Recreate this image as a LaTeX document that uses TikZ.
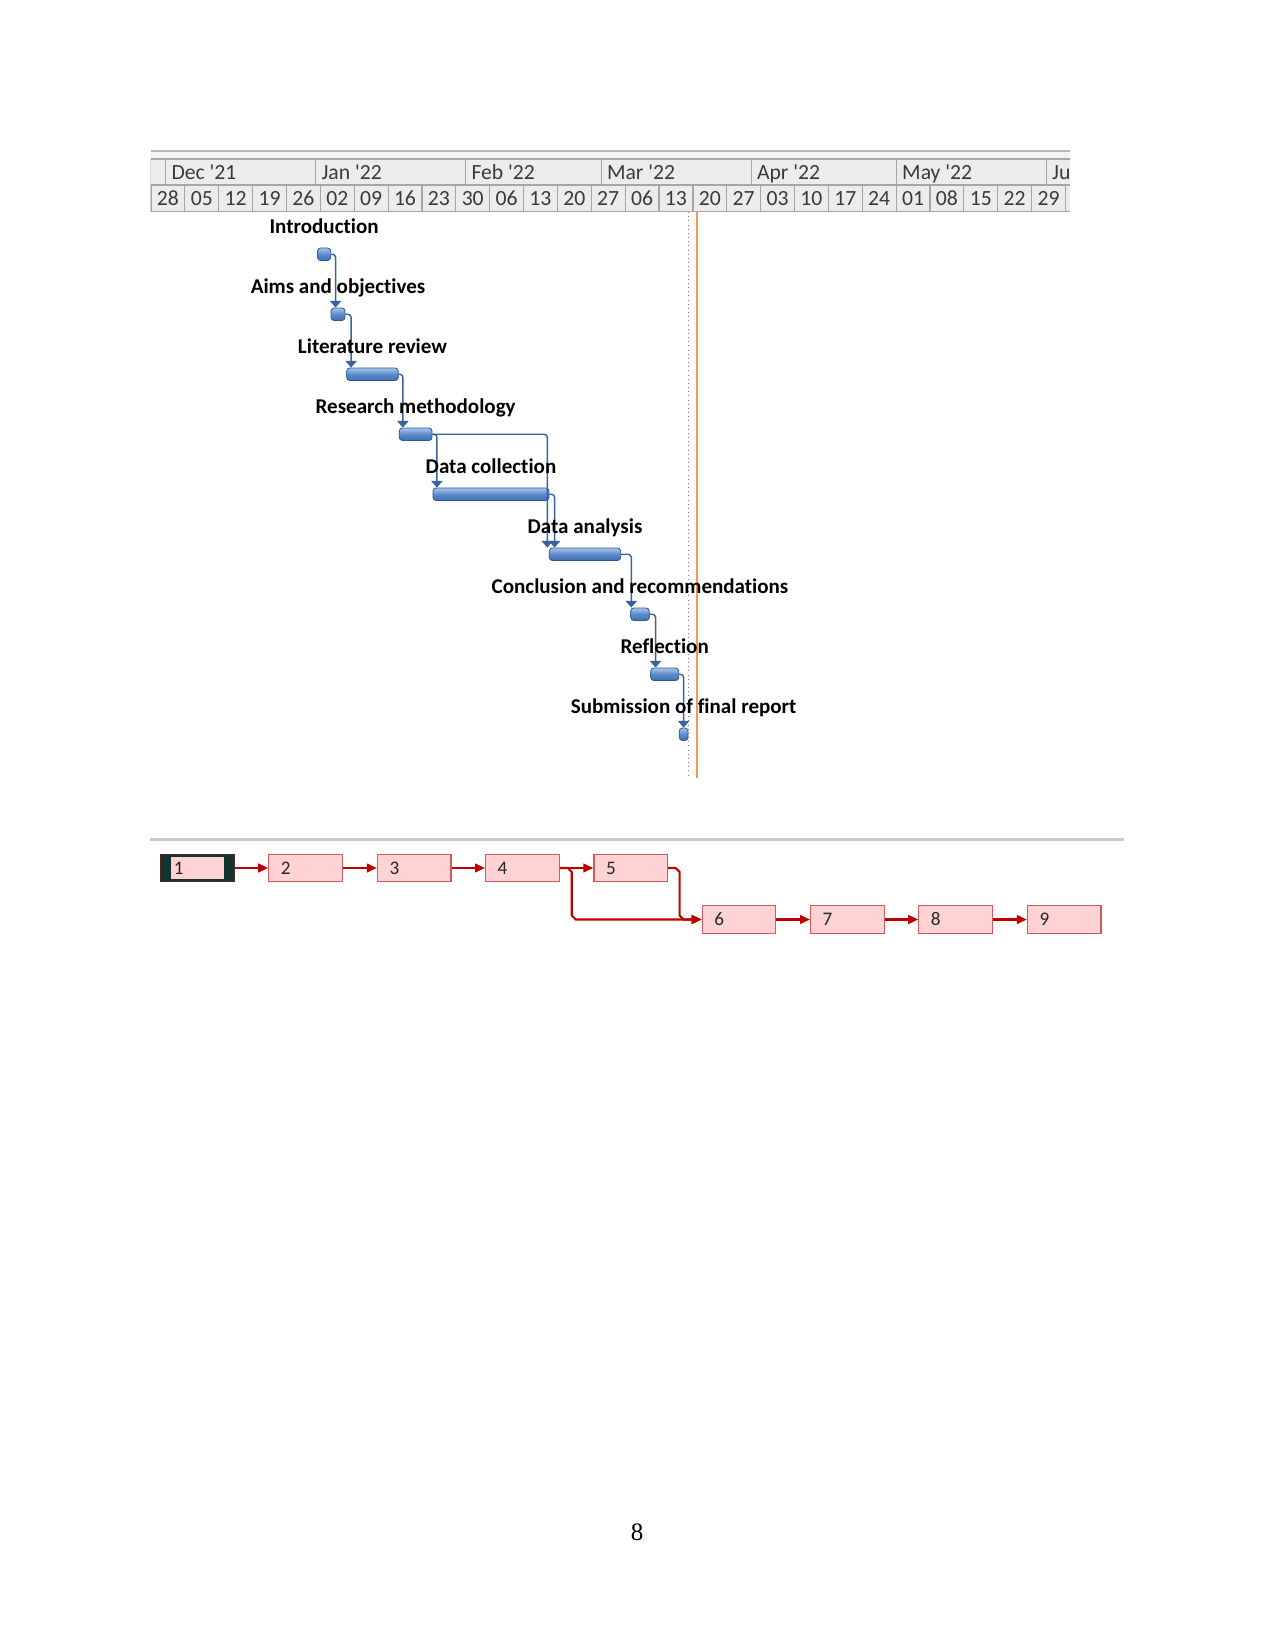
\documentclass[tikz,border=0pt]{standalone}
\usepackage{fontspec}
\setmainfont{Liberation Serif}
\newfontfamily\calfont[Ligatures={NoCommon}]{Carlito}
\usetikzlibrary{arrows.meta,calc,fit}
\newcommand\apos{\char"27\relax}
\definecolor{hdrfill}{HTML}{ECECEC}
\definecolor{hdrband}{HTML}{F3F3F3}
\definecolor{hdrline}{HTML}{A6A6A6}
\definecolor{hdrtop}{HTML}{B5B5B5}
\definecolor{hdrtext}{HTML}{3A3A3A}
\definecolor{bartop}{HTML}{A9C4EA}
\definecolor{barmid}{HTML}{5B8BCB}
\definecolor{barbot}{HTML}{3F6FAF}
\definecolor{barline}{HTML}{2F5A94}
\definecolor{connblue}{HTML}{3A62A0}
\definecolor{todayorange}{HTML}{F39A52}
\definecolor{boxfill}{HTML}{FFD3D3}
\definecolor{boxline}{HTML}{D05A5A}
\definecolor{netred}{HTML}{C00000}
\definecolor{boxdark}{HTML}{0F3431}
\definecolor{sepgrey}{HTML}{C8C8C8}
\tikzset{
  ganttbar/.style={draw=barline, line width=0.4bp, rounded corners=1.5bp,
    top color=bartop, bottom color=barbot, middle color=barmid, inner sep=0pt},
  conn/.style={draw=connblue, line width=0.7bp, rounded corners=1.5bp,
    -{Triangle[length=3.2bp,width=5.4bp]}},
  lbl/.style={anchor=base, inner sep=0pt, font=\calfont\bfseries\fontsize{10.1bp}{12bp}\selectfont},
  daytxt/.style={anchor=base, inner sep=0pt, text=hdrtext, font=\calfont\fontsize{10.4bp}{12bp}\selectfont},
  monthtxt/.style={anchor=base west, inner sep=0pt, text=hdrtext, font=\calfont\fontsize{10.4bp}{12bp}\selectfont},
  hline/.style={draw=hdrline, line width=0.55bp},
  nbox/.style={draw=boxline, fill=boxfill, line width=0.6bp, anchor=west,
    minimum width=35.28bp, minimum height=13.2bp, inner sep=0pt, inner xsep=5.8bp,
    text width=23.68bp, align=left, text=black!85,
    font=\calfont\fontsize{9.2bp}{10bp}\selectfont},
  nline/.style={draw=netred, line width=1bp},
  narrow/.style={nline, -{Triangle[length=4.8bp,width=4.2bp]}},
}
\begin{document}
\begin{tikzpicture}[x=0.48bp,y=-0.48bp]
\useasboundingbox (0,0) rectangle (1275,1651);
\fill[white] (0,0) rectangle (1275,1651);

% ---------------- timescale header ----------------
\begin{scope}
\clip (150.5,149) rectangle (1070,213);
\fill[hdrband] (150.5,152) rectangle (1070,159);
\fill[hdrfill] (150.5,159) rectangle (1070,211.5);
\draw[hdrtop, line width=1.1bp] (150.5,151) -- (1070,151);
\draw[hline] (150.5,159) -- (1070,159);
\draw[hline] (150.5,185) -- (1070,185);
\draw[hline] (150.5,211.5) -- (1070,211.5);
\draw[hline] (150.8,159) -- (150.8,211.5);
\foreach \x/\m [count=\i] in {165.6/Dec \apos21, 315.6/Jan \apos22, 465.6/Feb \apos22,
    601.1/Mar \apos22, 751.1/Apr \apos22, 896.3/May \apos22, 1046.3/Jun \apos22} {
  \draw[hline] (\x,159) -- (\x,185);
  \node[monthtxt] (m\i) at (\x+5.5,179.5) {\m};
}
\foreach \d [count=\i from 0] in {28,05,12,19,26,02,09,16,23,30,06,13,20,27,06,13,20,27,03,10,17,24,01,08,15,22,29,05} {
  \draw[hline] ({151+33.87*\i},185) -- ({151+33.87*\i},211.5);
  \node[daytxt] (d\i) at ({151+33.87*\i+16.9},205.5) {\d};
}
\end{scope}

% ---------------- status lines ----------------
\draw[gray, line width=0.5bp, dash pattern=on 0.5bp off 1.5bp] (688.5,212) -- (688.5,776);
\draw[todayorange, line width=0.8bp] (697,212) -- (697,778);

% ---------------- bars ----------------
\node[ganttbar, fit={(317.5,248) (330.7,260.5)}] (b1) {};
\node[ganttbar, fit={(331,308) (345,320.5)}] (b2) {};
\node[ganttbar, fit={(346.7,368) (398.3,380.5)}] (b3) {};
\node[ganttbar, fit={(399.3,428) (432,440.5)}] (b4) {};
\node[ganttbar, fit={(433,488) (549,500.5)}] (b5) {};
\node[ganttbar, fit={(549.3,548) (620.7,560.5)}] (b6) {};
\node[ganttbar, fit={(630.7,608) (649.3,620.5)}] (b7) {};
\node[ganttbar, fit={(650.7,668) (678.7,680.5)}] (b8) {};
\node[ganttbar, fit={(679.3,728) (688,740.5)}] (b9) {};

% ---------------- connectors ----------------
\draw[conn] (b1.east) -| ($(b2.north west)+(5,0)$);
\draw[conn] (b2.east) -| ($(b3.north west)+(4.8,0)$);
\draw[conn] (b3.east) -| ($(b4.north west)+(4,0)$);
\draw[conn] (b4.east) -| ($(b5.north west)+(4.3,0)$);
\draw[conn] (b4.east) -| ($(b6.north west)+(-1.6,0)$);
\draw[conn] (b5.east) -| ($(b6.north west)+(5.7,0)$);
\draw[conn] (b6.east) -| ($(b7.north west)+(1,0)$);
\draw[conn] (b7.east) -| ($(b8.north west)+(5.3,0)$);
\draw[conn] (b8.east) -| ($(b9.north west)+(4.7,0)$);

% ---------------- labels ----------------
\node[lbl] (l1) at ($(b1.north)+(0,-14.5)$) {Introduction};
\node[lbl] (l2) at ($(b2.north)+(0,-14.5)$) {Aims and objectives};
\node[lbl] (l3) at ($(b3.north)+(0,-14.5)$) {Literature review};
\node[lbl] (l4) at ($(b4.north)+(0,-14.5)$) {Research methodology};
\node[lbl] (l5) at ($(b5.north)+(0,-14.5)$) {Data collection};
\node[lbl] (l6) at ($(b6.north)+(0,-14.5)$) {Data analysis};
\node[lbl] (l7) at ($(b7.north)+(0,-14.5)$) {Conclusion and recommendations};
\node[lbl] (l8) at ($(b8.north)+(0,-14.5)$) {Reflection};
\node[lbl] (l9) at ($(b9.north)+(0,-14.5)$) {Submission of final report};

% ---------------- network diagram ----------------
\draw[sepgrey, line width=1.3bp] (150,839.5) -- (1124.4,839.5);

\node[nbox, fill=boxdark, draw=boxdark!70!red] (n1) at (160,868) {};
\node[fill=boxfill, minimum width=25.2bp, minimum height=10.75bp, inner sep=0pt,
  inner xsep=1.3bp, text width=22.6bp, align=left, text=black!85,
  font=\calfont\fontsize{9.2bp}{10bp}\selectfont] (n1i) at (n1.center) {1};
\node[nbox] (n2) at (268.2,868) {2};
\node[nbox] (n3) at (376.8,868) {3};
\node[nbox] (n4) at (485,868) {4};
\node[nbox] (n5) at (593.3,868) {5};
\node[nbox] (n6) at (701.7,919.5) {6};
\node[nbox] (n7) at (810,919.5) {7};
\node[nbox] (n8) at (918.2,919.5) {8};
\node[nbox] (n9) at (1026.8,919.5) {9};

\draw[narrow] (n1.east) -- (n2.west);
\draw[narrow] (n2.east) -- (n3.west);
\draw[narrow] (n3.east) -- (n4.west);
\draw[narrow] (n4.east) -- (n5.west);
\draw[narrow] (n6.east) -- (n7.west);
\draw[narrow] (n7.east) -- (n8.west);
\draw[narrow] (n8.east) -- (n9.west);
\coordinate (br4) at ($(n4.east)+(12,0)$);
\coordinate (br5) at ($(n5.east)+(11.5,0)$);
\draw[narrow] (n4.east) -- ++(8,0) -- ++(4,4) -- ($(br4 |- n6.west)+(0,-4)$) -- ++(4,4) -- (n6.west);
\draw[narrow] (n5.east) -- ++(7.5,0) -- ++(4,4) -- ($(br5 |- n6.west)+(0,-4)$) -- ++(4,4) -- (n6.west);

% ---------------- page number ----------------
\node[anchor=base, inner sep=0pt, font=\fontsize{12bp}{14bp}\selectfont] (pg) at (637,1540) {8};
\end{tikzpicture}
\end{document}
